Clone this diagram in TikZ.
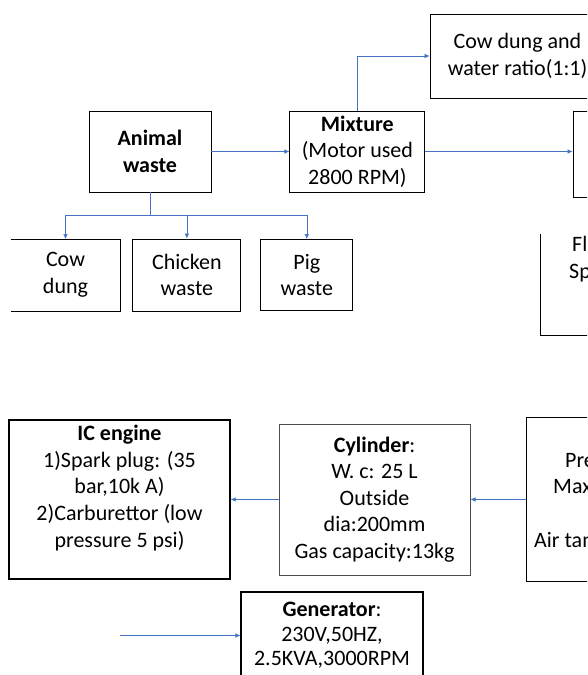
\documentclass[tikz,border=0pt]{standalone}
\usepackage{fontspec}
\setmainfont{Carlito}
\usepackage{tikz}
\usetikzlibrary{positioning}
\usetikzlibrary{arrows.meta}

\definecolor{linkblue}{HTML}{4472C4}

\tikzset{
  box/.style={draw, line width=0.9pt, align=center, inner sep=0pt,
    font=\fontsize{22}{26.6}\selectfont},
  cut/.style={align=left, inner sep=0pt, anchor=base west,
    font=\fontsize{22}{26.6}\selectfont},
  link/.style={draw=linkblue, line width=0.6pt, -{Latex[length=5pt,width=4.5pt]}}
}

\begin{document}
\begin{tikzpicture}[x=1pt, y=-1pt]
        \useasboundingbox (0,0) rectangle (587,675);
        \clip (0,0) rectangle (587,675);

        % Define the nodes
        \node[box, minimum width=122pt, minimum height=81pt] (waste) at (150,151.5) {\textbf{Animal}\\\textbf{waste}};
        \node[box, minimum width=135pt, minimum height=81pt, right=78pt of waste] (mixture) {\textbf{Mixture}\\(Motor used\\2800 RPM)};
        \node[box, minimum width=175pt, minimum height=84pt] (ratio) at (517.5,56) {Cow dung and\\water ratio(1:1)};
        \node[box, minimum width=130pt, minimum height=86pt] (digester) at (638,154) {};

        \node[box, draw=none, minimum width=109pt, minimum height=71pt] (cow) at (65.5,275) {Cow\\dung};
        \draw[line width=0.9pt] (cow.north west) -- (cow.north east) -- (cow.south east) -- (cow.south west);
        \node[box, minimum width=108pt, minimum height=72pt, right=12pt of cow] (chicken) {Chicken\\waste};
        \node[box, minimum width=92pt, minimum height=71pt, right=19pt of chicken] (pig) {Pig\\waste};

        \coordinate (flowtop) at (540,234);
        \coordinate (flowend) at (600,335);
        \draw[line width=0.9pt] (flowtop) |- (flowend);
        \node[cut] (flow) at (569,278) {\hspace*{3pt}Flow\\Speed};

        \node[box, line width=1.2pt, minimum width=221pt, minimum height=159pt] (engine) at (119.5,499.5) {\textbf{IC engine}\\1)Spark plug: (35\\bar,10k A)\\2)Carburettor (low\\pressure 5 psi)\\\mbox{}};
        \node[box, draw=black!70, minimum width=191pt, minimum height=151pt, right=48pt of engine] (cylinder) {\textbf{Cylinder}:\\W. c: 25 L\\Outside\\dia:200mm\\Gas capacity:13kg};
        \node[box, minimum width=160pt, minimum height=164pt, right=55pt of cylinder] (tank) {};
        \node[cut] (tanktext) at (534,547) {\hspace*{31pt}Pressure\\\hspace*{19pt}Max\\[26.6pt]Air tank};

        \node[box, line width=1.2pt, minimum width=182pt, minimum height=87pt, font=\fontsize{22}{24.5}\selectfont] (generator) at (332,635.5) {\textbf{Generator}:\\230V,50HZ,\\2.5KVA,3000RPM};
        \coordinate (genin) at (120,635.5);

        % Draw the links
        \draw[link] (waste.east) -- (waste.east -| mixture.west);
        \draw[link] (mixture.north) |- (ratio.west);
        \draw[link] (mixture.east) -- (mixture.east -| digester.west);
        \path (waste.south) ++(0,23) coordinate (split);
        \draw[linkblue, line width=0.6pt] (waste.south) -- (split);
        \draw[link] (split) -| (cow.north);
        \draw[link] (split) -| (chicken.north);
        \draw[link] (split) -| (pig.north);
        \draw[link] (cylinder.west) -- (cylinder.west -| engine.east);
        \draw[link] (tank.west) -- (tank.west -| cylinder.east);
        \draw[link] (genin) -- (generator.west);
    \end{tikzpicture}
\end{document}
